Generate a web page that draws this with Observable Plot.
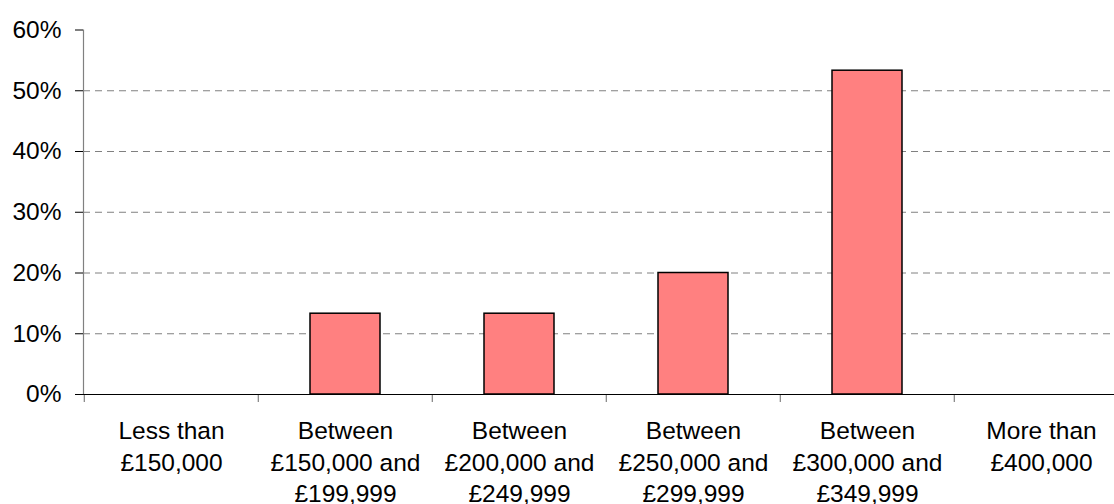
<!DOCTYPE html>
<html>
<head>
<meta charset="utf-8">
<script src="https://cdn.jsdelivr.net/npm/d3@7"></script>
<script src="https://cdn.jsdelivr.net/npm/@observablehq/plot@0.6"></script>
<style>
  html, body { margin: 0; padding: 0; background: #fff; }
  #chart { width: 1114px; height: 504px; overflow: hidden; }
</style>
</head>
<body>
<div id="chart"></div>
<script>
const categories = [
  "Less than\n£150,000",
  "Between\n£150,000 and\n£199,999",
  "Between\n£200,000 and\n£249,999",
  "Between\n£250,000 and\n£299,999",
  "Between\n£300,000 and\n£349,999",
  "More than\n£400,000"
];
const shares = [0, 13.3, 13.3, 20.0, 53.3, 0];
const yTicks = [0, 10, 20, 30, 40, 50, 60];
const gridTicks = [10, 20, 30, 40, 50];

const data = categories.map((c, i) => ({category: c, share: shares[i]}));
const step = 174.4;

const chart = Plot.plot({
  width: 1114,
  height: 504,
  marginLeft: 83,
  marginRight: 0,
  marginTop: 29.5,
  marginBottom: 110,
  style: {fontFamily: "'Liberation Sans', Arial, sans-serif", fontSize: "24.5px", color: "black", background: "white"},
  x: {domain: categories, range: [83, 83 + 6 * step], paddingInner: 0.6, paddingOuter: 0.3, label: null},
  y: {domain: [0, 60], label: null},
  marks: [
    Plot.ruleY(gridTicks, {stroke: "#808080", strokeDasharray: "7,5", strokeWidth: 1}),
    Plot.barY(data.filter(d => d.share > 0), {x: "category", y: "share", fill: "#FF8080", stroke: "black", strokeWidth: 1.5}),
    Plot.frame({anchor: "left", stroke: "#808080", strokeWidth: 1.2}),
    Plot.axisX({tickSize: 8, tickFormat: () => "", dx: -step / 2, stroke: "#808080", strokeWidth: 1.2}),
    Plot.ruleY([0], {stroke: "black", strokeWidth: 1.2, insetLeft: -8}),
    Plot.axisX({tickSize: 0, tickPadding: 22, fontSize: 24.5, lineHeight: 1.29, fill: "black"}),
    Plot.axisY({ticks: yTicks, tickFormat: d => d + "%", tickSize: 8, tickPadding: 14, fontSize: 24.5, stroke: "black", fill: "black"})
  ]
});
document.getElementById("chart").appendChild(chart);
</script>
</body>
</html>
